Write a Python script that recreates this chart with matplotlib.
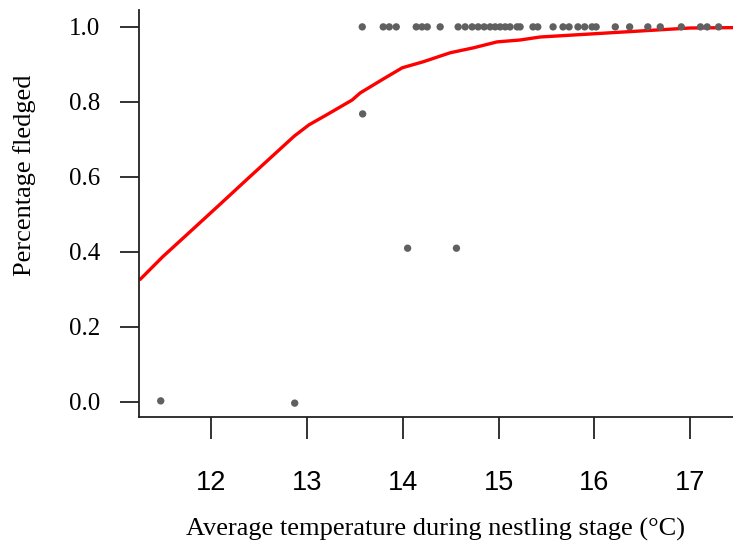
import matplotlib
matplotlib.use("Agg")
import matplotlib.pyplot as plt

# Observed data points
x_top = [13.576, 13.795, 13.858, 13.931, 14.14, 14.20, 14.255, 14.39, 14.578, 14.651,
         14.724, 14.787, 14.85, 14.912, 14.965, 15.017, 15.07, 15.12, 15.194, 15.225,
         15.36, 15.41, 15.57, 15.674, 15.737, 15.83, 15.90, 15.977, 16.02, 16.22,
         16.37, 16.56, 16.69, 16.91, 17.11, 17.18, 17.30]
y_top = [1.0] * len(x_top)
x_other = [11.47, 12.87, 13.58, 14.05, 14.56]
y_other = [0.003, -0.003, 0.768, 0.41, 0.41]

# Fitted curve
fit_x = [11.248, 11.49, 11.82, 12.115, 12.365, 12.626, 12.866, 13.02, 13.20, 13.47,
         13.555, 13.795, 13.994, 14.213, 14.495, 14.735, 14.985, 15.225, 15.434,
         15.956, 16.478, 17.0, 17.45]
fit_y = [0.325, 0.387, 0.464, 0.533, 0.592, 0.653, 0.709, 0.739, 0.765, 0.805,
         0.824, 0.861, 0.891, 0.907, 0.931, 0.944, 0.960, 0.965, 0.973,
         0.981, 0.989, 0.997, 0.998]

x_ticks = [12, 13, 14, 15, 16, 17]
y_ticks = [0.0, 0.2, 0.4, 0.6, 0.8, 1.0]

fig = plt.figure(figsize=(7.33, 5.46), dpi=100)
ax = fig.add_axes([139 / 733, 1 - 417 / 546, 1 - 139 / 733, (417 - 10) / 546])

ax.plot(fit_x, fit_y, color="#ff0000", lw=2.4, zorder=2, solid_capstyle="butt")
pts_x = x_top + x_other
pts_y = y_top + y_other
ax.scatter(pts_x, pts_y, s=28, color="#606060", edgecolors="none", zorder=3)

ax.set_xlim(11.243, 17.45)
ax.set_ylim(-0.04, 1.045)

for s in ["top", "right"]:
    ax.spines[s].set_visible(False)
for s in ["left", "bottom"]:
    ax.spines[s].set_linewidth(1.3)
    ax.spines[s].set_color("#222222")

ax.set_xticks(x_ticks)
ax.set_xticklabels([str(t) for t in x_ticks], family="Liberation Sans", fontsize=19.5)
ax.set_yticks(y_ticks)
ax.set_yticklabels([f"{t:.1f}" for t in y_ticks], family="Liberation Serif", fontsize=18)
ax.tick_params(axis="x", length=16, width=1.3, pad=22, color="#222222")
ax.tick_params(axis="y", length=14, width=1.3, pad=14, color="#222222")

ax.set_xlabel("Average temperature during nestling stage (°C)", family="Liberation Serif",
              fontsize=19, labelpad=16)
ax.set_ylabel("Percentage fledged", family="Liberation Serif", fontsize=19, labelpad=24)
ax.yaxis.label.set_y(0.595)

fig.savefig("out.png", dpi=100)
